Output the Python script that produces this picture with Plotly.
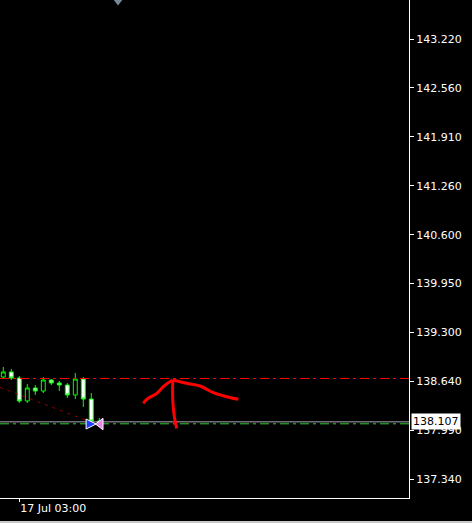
import plotly.graph_objects as go

# ---- data ----
bar_index = list(range(13))
opens  = [138.706, 138.773, 138.693, 138.386, 138.559, 138.519, 138.666, 138.626, 138.599, 138.466, 138.679, 138.412, 138.118]
highs  = [138.840, 138.813, 138.719, 138.613, 138.599, 138.706, 138.679, 138.653, 138.626, 138.760, 138.706, 138.492, 138.159]
lows   = [138.679, 138.666, 138.359, 138.359, 138.466, 138.492, 138.599, 138.519, 138.426, 138.412, 138.305, 138.078, 138.092]
closes = [138.773, 138.693, 138.386, 138.559, 138.519, 138.666, 138.626, 138.599, 138.466, 138.679, 138.412, 138.118, 138.107]

date_tick_index = [2]
date_tick_text = ["17 Jul 03:00"]

price_tickvals = [143.220, 142.567, 141.913, 141.260, 140.607, 139.953, 139.300, 138.647, 137.993, 137.340]
price_ticktext = ["143.220", "142.560", "141.910", "141.260", "140.600", "139.950", "139.300", "138.640", "137.990", "137.340"]

bid_price = 138.107
red_level = 138.686
green_level = 138.081

trend_x = [-0.41, 11.2]
trend_y = [138.567, 138.095]

# freehand red arrow drawing (bar index, price)
stroke1_x = [17.5, 17.93, 19.18, 20.0, 20.63, 21.18]
stroke1_y = [138.355, 138.408, 138.488, 138.577, 138.630, 138.666]
stroke2_x = [21.18, 22.93, 24.59, 26.25, 27.93, 29.38]
stroke2_y = [138.666, 138.622, 138.586, 138.496, 138.443, 138.408]
stroke3_x = [21.18, 21.18, 21.38, 21.67]
stroke3_y = [138.666, 138.399, 138.176, 138.021]

trade_x = [11.6, 12.15]
trade_y = [138.078, 138.078]

shift_marker_x = [14.34]

x_range = [-0.4125, 50.71]
y_range = [137.090, 143.741]

FONT = "DejaVu Sans"

fig = go.Figure()

# horizontal levels
fig.add_trace(go.Scatter(x=x_range, y=[red_level, red_level], mode="lines",
                         line=dict(color="#ff0000", width=1, dash="9px,4px,3px,4px"),
                         hoverinfo="skip", showlegend=False))
fig.add_trace(go.Scatter(x=x_range, y=[green_level, green_level], mode="lines",
                         line=dict(color="#32cd32", width=1, dash="9px,4px,3px,4px"),
                         hoverinfo="skip", showlegend=False))
fig.add_trace(go.Scatter(x=x_range, y=[bid_price, bid_price], mode="lines",
                         line=dict(color="#a9a9b4", width=1),
                         hoverinfo="skip", showlegend=False))
# trend line
fig.add_trace(go.Scatter(x=trend_x, y=trend_y, mode="lines",
                         line=dict(color="#9b0000", width=1, dash="3px,5px"),
                         hoverinfo="skip", showlegend=False))

fig.add_trace(go.Candlestick(
    x=bar_index, open=opens, high=highs, low=lows, close=closes,
    increasing=dict(line=dict(color="#00ff00", width=1), fillcolor="#000000"),
    decreasing=dict(line=dict(color="#00ff00", width=1), fillcolor="#ffffff"),
    whiskerwidth=0, showlegend=False))

# trade arrows
fig.add_trace(go.Scatter(x=[trade_x[1]], y=[trade_y[1]], mode="markers",
                         marker=dict(symbol="triangle-left", size=10, color="#ee82ee",
                                     line=dict(color="#ffffff", width=1)),
                         showlegend=False, hoverinfo="skip"))
fig.add_trace(go.Scatter(x=[trade_x[0]], y=[trade_y[0]], mode="markers",
                         marker=dict(symbol="arrow-right", size=10, color="#1e3cff",
                                     line=dict(color="#ffffff", width=1)),
                         showlegend=False, hoverinfo="skip"))

# freehand drawing
for sx, sy in [(stroke1_x, stroke1_y), (stroke2_x, stroke2_y), (stroke3_x, stroke3_y)]:
    fig.add_trace(go.Scatter(x=sx, y=sy, mode="lines",
                             line=dict(color="#ff0000", width=3, shape="spline"),
                             showlegend=False, hoverinfo="skip"))

# shift marker at top
fig.add_trace(go.Scatter(x=shift_marker_x, y=[y_range[1]], mode="markers",
                         marker=dict(symbol="triangle-down", size=11, color="#778899"),
                         cliponaxis=False, showlegend=False, hoverinfo="skip"))

fig.update_layout(
    width=472, height=523,
    margin=dict(l=0, r=63, t=0, b=25),
    paper_bgcolor="#000000", plot_bgcolor="#000000",
    font=dict(family=FONT, size=11, color="#ffffff"),
    showlegend=False,
    boxgap=0.3,
)
fig.update_xaxes(
    range=x_range, rangeslider=dict(visible=False),
    showgrid=False, zeroline=False,
    showline=True, linecolor="#ffffff", linewidth=1,
    tickmode="array", tickvals=date_tick_index, ticktext=date_tick_text,
    ticks="outside", ticklen=3, tickcolor="#ffffff",
    ticklabelposition="outside right",
    tickfont=dict(family=FONT, size=11, color="#ffffff"),
)
fig.update_yaxes(
    range=y_range, side="right",
    showgrid=False, zeroline=False,
    showline=True, linecolor="#ffffff", linewidth=1,
    tickmode="array", tickvals=price_tickvals, ticktext=price_ticktext,
    ticks="outside", ticklen=4, tickcolor="#ffffff",
    tickfont=dict(family=FONT, size=11, color="#ffffff"),
)

fig.add_annotation(x=1.004, xref="paper", y=bid_price, yref="y",
                   text="138.107", showarrow=False, xanchor="left", yanchor="middle",
                   bgcolor="#ffffff", font=dict(family=FONT, size=11, color="#000000"),
                   borderpad=1)

# bottom window edge
fig.add_shape(type="rect", xref="paper", yref="paper", x0=0, x1=1.2, y0=-0.0502, y1=-0.0462,
              fillcolor="#c8c8c8", line=dict(width=0), layer="above")

fig.write_html("out.html")
